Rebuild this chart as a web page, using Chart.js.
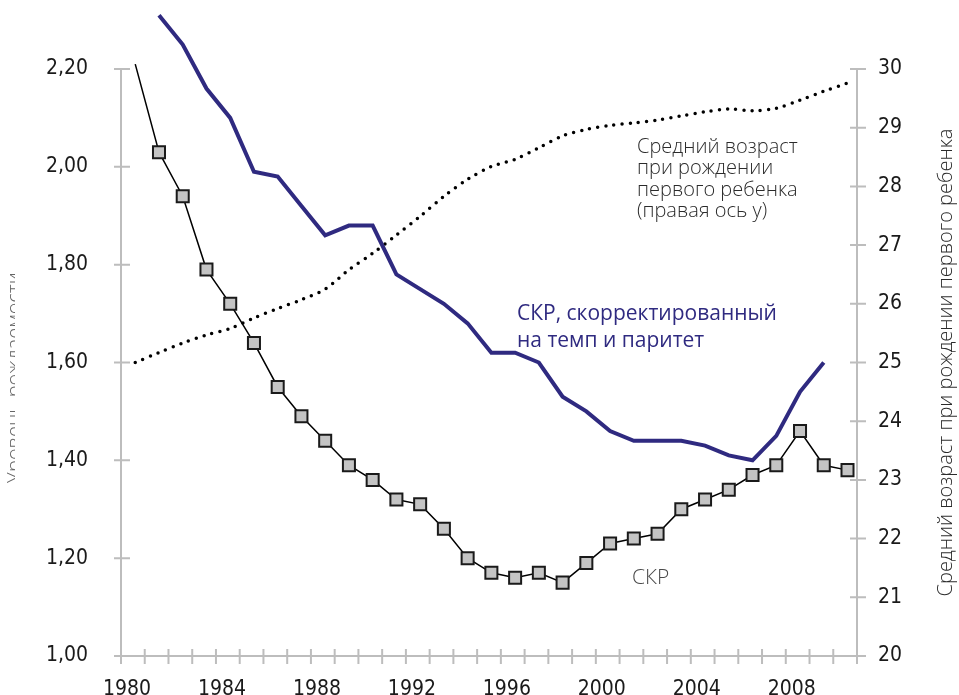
<!DOCTYPE html>
<html lang="ru">
<head>
<meta charset="utf-8">
<script src="https://cdn.jsdelivr.net/npm/chart.js@4.4.1/dist/chart.umd.min.js"></script>
<style>
  html, body { margin: 0; padding: 0; background: #fff; overflow: hidden; }
  #wrap { width: 959px; height: 695px; position: relative; }
  canvas { display: block; }
</style>
</head>
<body>
<div id="wrap"><canvas id="main-canvas" width="959" height="695"></canvas></div>
<script>
// values
const years = [1980, 1981, 1982, 1983, 1984, 1985, 1986, 1987, 1988, 1989,
               1990, 1991, 1992, 1993, 1994, 1995, 1996, 1997, 1998, 1999,
               2000, 2001, 2002, 2003, 2004, 2005, 2006, 2007, 2008, 2009, 2010];

// СКР (left axis)
const tfr = [2.21, 2.03, 1.94, 1.79, 1.72, 1.64, 1.55, 1.49, 1.44, 1.39,
             1.36, 1.32, 1.31, 1.26, 1.20, 1.17, 1.16, 1.17, 1.15, 1.19,
             1.23, 1.24, 1.25, 1.30, 1.32, 1.34, 1.37, 1.39, 1.46, 1.39, 1.38];

// СКР, скорректированный на темп и паритет (left axis)
const adjTfr = [null, 2.31, 2.25, 2.16, 2.10, 1.99, 1.98, 1.92, 1.86, 1.88,
                1.88, 1.78, 1.75, 1.72, 1.68, 1.62, 1.62, 1.60, 1.53, 1.50,
                1.46, 1.44, 1.44, 1.44, 1.43, 1.41, 1.40, 1.45, 1.54, 1.60, null];

// Средний возраст при рождении первого ребенка (right axis)
const ageFirst = [25.00, 25.17, 25.33, 25.47, 25.58, 25.76, 25.92, 26.07, 26.25, 26.58,
                  26.86, 27.17, 27.49, 27.83, 28.12, 28.34, 28.46, 28.66, 28.86, 28.97,
                  29.04, 29.08, 29.13, 29.20, 29.27, 29.32, 29.29, 29.33, 29.47, 29.62, 29.76];

const xLabelYears = [1980, 1984, 1988, 1992, 1996, 2000, 2004, 2008];
const leftTicks = [1.0, 1.2, 1.4, 1.6, 1.8, 2.0, 2.2];
const rightTicks = [20, 21, 22, 23, 24, 25, 26, 27, 28, 29, 30];

const AXIS_GRAY = '#bdbdbd';
const PURPLE = '#2f2a80';
const tickFont = { family: "'Liberation Sans Narrow', 'DejaVu Sans Condensed', 'Roboto', sans-serif", size: 21 };
const noteFamily = "'Open Sans', 'Noto Sans', sans-serif";

// points sit a bit past the year tick, like in the original
const pts = arr => years.map((yr, i) => ({ x: yr + 0.6, y: arr[i] }));

// axis lines and ticks that cross the axis
const frame = {
    id: 'frame',
    beforeDatasetsDraw(chart) {
        const { ctx, chartArea: a, scales } = chart;
        ctx.save();
        ctx.strokeStyle = AXIS_GRAY;
        ctx.lineWidth = 2;
        ctx.beginPath();
        ctx.moveTo(a.left, a.top); ctx.lineTo(a.left, a.bottom);
        ctx.moveTo(a.right, a.top); ctx.lineTo(a.right, a.bottom);
        ctx.moveTo(a.left - 7, a.bottom); ctx.lineTo(a.right + 9, a.bottom);
        scales.y.ticks.forEach(t => {
            const p = scales.y.getPixelForValue(t.value);
            ctx.moveTo(a.left - 7, p); ctx.lineTo(a.left + 9, p);
        });
        scales.y1.ticks.forEach(t => {
            const p = scales.y1.getPixelForValue(t.value);
            ctx.moveTo(a.right - 7, p); ctx.lineTo(a.right + 9, p);
        });
        scales.x.ticks.forEach(t => {
            const p = scales.x.getPixelForValue(t.value);
            ctx.moveTo(p, a.bottom - 7); ctx.lineTo(p, a.bottom + 8);
        });
        ctx.stroke();
        ctx.restore();
    },
    afterDraw(chart) {
        const { ctx, chartArea: a } = chart;
        ctx.save();
        ctx.textBaseline = 'middle';
        ctx.textAlign = 'left';

        ctx.fillStyle = '#2b2b2b';
        ctx.font = `300 20px ${noteFamily}`;
        ['Средний возраст', 'при рождении', 'первого ребенка', '(правая ось у)']
            .forEach((s, i) => ctx.fillText(s, 637, 147 + i * 21.5));

        ctx.fillStyle = PURPLE;
        ctx.font = `400 21px ${noteFamily}`;
        ctx.fillText('СКР, скорректированный', 517, 314);
        ctx.fillText('на темп и паритет', 517, 341);

        ctx.fillStyle = '#4a4a4a';
        ctx.font = `300 21px ${noteFamily}`;
        ctx.fillText('СКР', 632, 578);

        // axis titles, rotated
        ctx.textBaseline = 'alphabetic';
        ctx.textAlign = 'center';
        ctx.fillStyle = '#2b2b2b';
        ctx.font = `300 20px ${noteFamily}`;
        ctx.translate(952, (a.top + a.bottom) / 2);
        ctx.rotate(-Math.PI / 2);
        ctx.fillText('Средний возраст при рождении первого ребенка', 0, 0);
        ctx.setTransform(1, 0, 0, 1, 0, 0);

        // left title is cut off in the original, only a thin strip shows
        ctx.beginPath();
        ctx.rect(7, 255, 8, 250);
        ctx.clip();
        ctx.translate(21, 378);
        ctx.rotate(-Math.PI / 2);
        ctx.fillStyle = '#666';
        ctx.fillText('Уровень рождаемости', 0, 0);
        ctx.restore();
    }
};

const mainCanvas = document.getElementById('main-canvas');
const myChart = new Chart(mainCanvas.getContext('2d'), {
    type: 'line',
    plugins: [frame],
    data: {
        datasets: [
            {
                label: 'СКР, скорректированный на темп и паритет',
                data: pts(adjTfr),
                yAxisID: 'y',
                borderColor: PURPLE,
                borderWidth: 4,
                pointRadius: 0,
                tension: 0,
                clip: false
            },
            {
                label: 'Средний возраст при рождении первого ребенка',
                data: pts(ageFirst),
                yAxisID: 'y1',
                borderColor: '#000',
                borderWidth: 3.5,
                borderDash: [0, 8.2],
                borderCapStyle: 'round',
                pointRadius: 0,
                tension: 0.3,
                clip: false
            },
            {
                label: 'СКР',
                data: pts(tfr),
                yAxisID: 'y',
                borderColor: '#000',
                borderWidth: 1.5,
                pointStyle: 'rect',
                pointRadius: ctx => ctx.dataIndex === 0 ? 0 : 8.5,
                pointBackgroundColor: '#c4c4c4',
                pointBorderColor: '#1a1a1a',
                pointBorderWidth: 2,
                tension: 0,
                clip: false
            }
        ]
    },
    options: {
        responsive: false,
        animation: false,
        devicePixelRatio: 1,
        layout: { padding: { top: 69, left: 0, right: 0, bottom: 0 } },
        plugins: {
            legend: { display: false },
            tooltip: { enabled: false }
        },
        scales: {
            x: {
                type: 'linear',
                min: 1980,
                max: 2011,
                grid: { display: false, drawTicks: false },
                border: { display: false },
                afterFit: s => { s.height = 39; },
                ticks: {
                    stepSize: 1,
                    autoSkip: false,
                    maxRotation: 0,
                    padding: 21,
                    labelOffset: 6,
                    font: tickFont,
                    color: '#1a1a1a',
                    callback: v => xLabelYears.includes(v) ? String(v) : ''
                }
            },
            y: {
                position: 'left',
                min: 1.0,
                max: 2.2,
                // tick length only spaces the labels, marks are drawn by the plugin
                grid: { display: false, drawTicks: true, tickLength: 33 },
                border: { display: false },
                afterFit: s => { s.width = 121; },
                afterBuildTicks: axis => { axis.ticks = leftTicks.map(v => ({ value: v })); },
                ticks: {
                    padding: 0,
                    font: tickFont,
                    color: '#1a1a1a',
                    callback: v => v.toFixed(2).replace('.', ',')
                }
            },
            y1: {
                position: 'right',
                min: 20,
                max: 30,
                grid: { display: false, drawTicks: true, tickLength: 21 },
                border: { display: false },
                afterFit: s => { s.width = 102; },
                afterBuildTicks: axis => { axis.ticks = rightTicks.map(v => ({ value: v })); },
                ticks: {
                    padding: 0,
                    font: tickFont,
                    color: '#1a1a1a',
                    callback: v => String(v)
                }
            }
        }
    }
});
</script>
</body>
</html>
